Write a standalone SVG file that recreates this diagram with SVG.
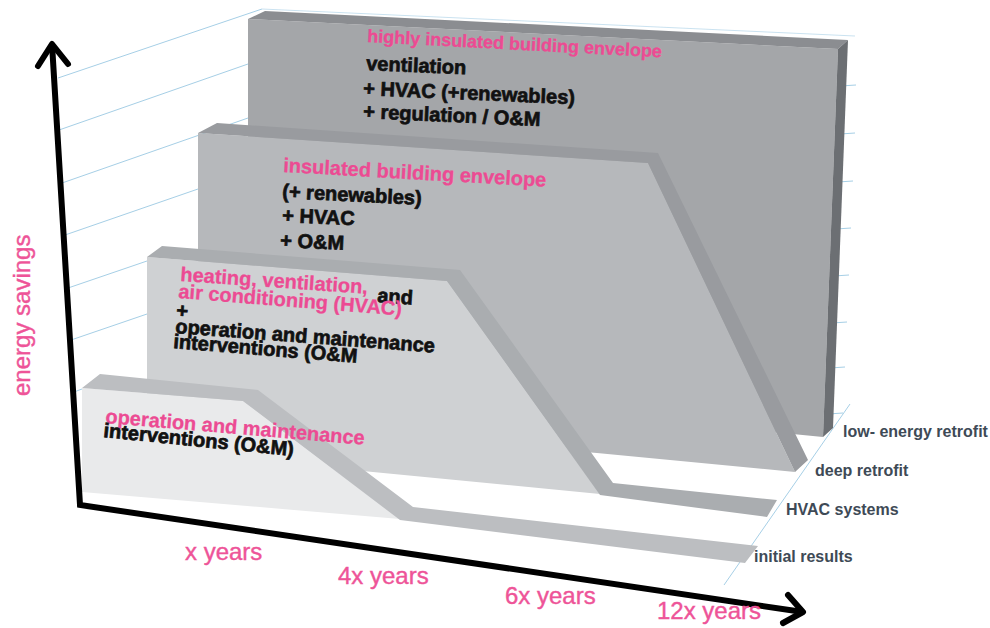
<svg xmlns="http://www.w3.org/2000/svg" width="990" height="628" viewBox="0 0 990 628">
<defs>
<style>
.grid{stroke:#a6cfe6;stroke-width:1;fill:none}
.pk{fill:#ec4b93;stroke:#ec4b93;stroke-width:0.3;font-family:"Liberation Sans",Arial,sans-serif;font-weight:bold}
.bk{fill:#111;stroke:#111;stroke-width:0.7;font-family:"Liberation Sans",Arial,sans-serif;font-weight:bold;font-size:20px}
.lbl{fill:#3e4a56;font-family:"Liberation Sans",Arial,sans-serif;font-weight:bold;font-size:16px}
.yr{fill:#ee5498;stroke:#ee5498;stroke-width:0.4;font-family:"Liberation Sans",Arial,sans-serif;font-size:24px}
.ax{stroke:#000;stroke-width:6;fill:none}
</style>
</defs>
<rect width="990" height="628" fill="#fff"/>
<g id="grid">
<line class="grid" x1="58" y1="78" x2="262" y2="9"/>
<line class="grid" x1="59" y1="130" x2="248" y2="64"/>
<line class="grid" x1="62" y1="183" x2="248" y2="118"/>
<line class="grid" x1="65" y1="235" x2="198" y2="189"/>
<line class="grid" x1="68" y1="288" x2="147" y2="261"/>
<line class="grid" x1="71" y1="340" x2="147" y2="314"/>
<line class="grid" x1="74" y1="392" x2="82" y2="389"/>
<line class="grid" x1="262" y1="9" x2="855" y2="36" opacity="0.6"/>
<line class="grid" x1="840" y1="86" x2="856" y2="85"/>
<line class="grid" x1="840" y1="134" x2="855" y2="133"/>
<line class="grid" x1="838" y1="182" x2="853" y2="181"/>
<line class="grid" x1="836" y1="229" x2="851" y2="228"/>
<line class="grid" x1="834" y1="276" x2="849" y2="275"/>
<line class="grid" x1="832" y1="323" x2="847" y2="322"/>
<line class="grid" x1="830" y1="368" x2="845" y2="367"/>
<line class="grid" x1="828" y1="414" x2="843" y2="413"/>
<line class="grid" x1="850" y1="404" x2="724" y2="585"/>
</g>
<g id="low-energy-retrofit">
<polygon points="248,19 838,49 823,437 700,425 248,425" fill="#a4a6a9"/>
<polygon points="248,19 265,11 848,40 838,49" fill="#8b8d91"/>
<polygon points="838,49 848,40 833,428 823,437" fill="#6c6f73"/>
<text class="pk" font-size="18" x="367" y="42" transform="rotate(3 367 42)">highly insulated building envelope</text>
<text class="bk" x="366" y="70" transform="rotate(2.5 366 70)">ventilation</text>
<text class="bk" x="363" y="95" transform="rotate(2.5 363 95)">+ HVAC (+renewables)</text>
<text class="bk" x="363" y="118" transform="rotate(2.6 363 118)">+ regulation / O&amp;M</text>
</g>
<g id="deep-retrofit">
<polygon points="198,133 648,163 795,472 597,453 198,420" fill="#b6b8bb"/>
<polygon points="198,133 217,123 658,153 808,460 795,472 648,163" fill="#999b9f"/>
<text class="pk" font-size="20" x="283" y="172" transform="rotate(3.2 283 172)">insulated building envelope</text>
<text class="bk" x="282" y="198" transform="rotate(2.8 282 198)">(+ renewables)</text>
<text class="bk" x="282" y="222" transform="rotate(2.5 282 222)">+ HVAC</text>
<text class="bk" x="280" y="247" transform="rotate(2.5 280 247)">+ O&amp;M</text>
</g>
<g id="hvac-systems">
<polygon points="147,257 447,281 600,494 147,450" fill="#cfd1d3"/>
<polygon points="147,257 162,246 460,270 613,483 777,500 767,517 600,495 447,281" fill="#aaadb0"/>
<text class="pk" font-size="20" x="180" y="281" transform="rotate(3.9 180 281)">heating, ventilation,</text>
<text class="bk" x="377" y="302" transform="rotate(4 377 302)">and</text>
<text class="pk" font-size="20" x="178" y="298" transform="rotate(4.5 178 298)">air conditioning (HVAC)</text>
<text class="bk" x="176" y="317" transform="rotate(4 176 317)">+</text>
<text class="bk" x="175" y="333" transform="rotate(4.3 175 333)">operation and maintenance</text>
<text class="bk" x="173" y="348" transform="rotate(4.6 173 348)">interventions (O&amp;M</text>
</g>
<g id="initial-results">
<polygon points="82,388 243,401 400,519 82,492" fill="#e9eaeb"/>
<polygon points="82,388 100,374 258,390 413,507 758,546 745,563 400,520 243,401" fill="#bcbec1"/>
<text class="pk" font-size="20" x="105" y="423" transform="rotate(4.8 105 423)">operation and maintenance</text>
<text class="bk" x="103" y="437" transform="rotate(5.7 103 437)">interventions (O&amp;M)</text>
</g>
<g id="connectors">
<polyline class="ax" points="52,44 80,505 803,612" stroke-linejoin="miter"/>
<polyline class="ax" points="38,66 52,44 68,64" stroke-linejoin="round" stroke-linecap="round"/>
<polyline class="ax" points="788,595 803,612 783,623" stroke-linejoin="round" stroke-linecap="round"/>
</g>
<g id="labels">
<text class="lbl" x="843" y="437">low- energy retrofit</text>
<text class="lbl" x="815" y="476">deep retrofit</text>
<text class="lbl" x="786" y="515">HVAC systems</text>
<text class="lbl" x="754" y="562">initial results</text>
<text class="yr" x="185" y="560">x years</text>
<text class="yr" x="338" y="584">4x years</text>
<text class="yr" x="505" y="604">6x years</text>
<text class="yr" x="657" y="619">12x years</text>
<text class="yr" font-size="30" transform="translate(30 396) rotate(-90)">energy savings</text>
</g>
</svg>
